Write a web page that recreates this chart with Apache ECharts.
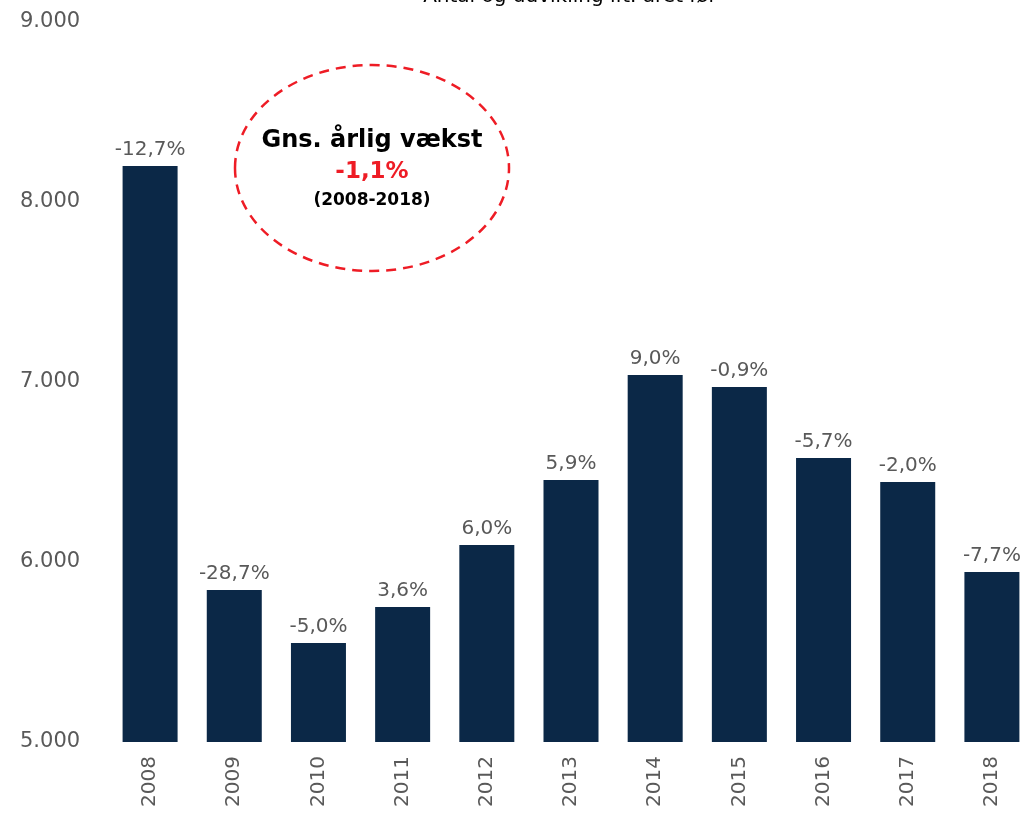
<!DOCTYPE html>
<html>
<head>
<meta charset="utf-8">
<script src="https://cdn.jsdelivr.net/npm/echarts@6/dist/echarts.min.js"></script>
<style>
  html, body { margin: 0; padding: 0; background: #fff; overflow: hidden; }
  #chart { width: 1034px; height: 819px; }
</style>
</head>
<body>
<div id="chart"></div>
<script>
// data
var years = ['2008', '2009', '2010', '2011', '2012', '2013', '2014', '2015', '2016', '2017', '2018'];
var antal = [8200, 5845, 5550, 5750, 6094, 6456, 7039, 6972, 6578, 6444, 5944];
var udvikling = ['-12,7%', '-28,7%', '-5,0%', '3,6%', '6,0%', '5,9%', '9,0%', '-0,9%', '-5,7%', '-2,0%', '-7,7%'];

var font = 'DejaVu Sans';
var chart = echarts.init(document.getElementById('chart'));

var option = {
    animation: false,
    grid: { left: 108, right: 0, top: 22, bottom: 77 },
    xAxis: {
        type: 'category',
        data: years,
        axisLine: { show: false },
        axisTick: { show: false },
        axisLabel: {
            rotate: 90,
            color: '#595959',
            fontFamily: font,
            fontSize: 20,
            margin: 14
        }
    },
    yAxis: {
        type: 'value',
        min: 5000,
        max: 9000,
        interval: 1000,
        splitLine: { show: false },
        axisLine: { show: false },
        axisTick: { show: false },
        axisLabel: {
            color: '#595959',
            fontFamily: font,
            fontSize: 21,
            align: 'left',
            margin: 88,
            formatter: function (v) {
                return String(v).replace(/\B(?=(\d{3})+(?!\d))/g, '.');
            }
        }
    },
    series: [{
        type: 'bar',
        data: antal,
        barWidth: 55,
        itemStyle: { color: '#0b2847' },
        label: {
            show: true,
            position: 'top',
            distance: 6,
            color: '#595959',
            fontFamily: font,
            fontSize: 20,
            formatter: function (p) { return udvikling[p.dataIndex]; }
        }
    }],
    graphic: [
        {
            type: 'text',
            x: 570, y: -13,
            style: { text: 'Antal og udvikling ift. året før', fill: '#000', font: '20px ' + font, align: 'center' }
        },
        {
            type: 'ellipse',
            shape: { cx: 372, cy: 168, rx: 137, ry: 103 },
            style: { fill: 'none', stroke: '#ee1c25', lineWidth: 2.5, lineDash: [10, 7] }
        },
        {
            type: 'text',
            x: 372, y: 141,
            style: { text: 'Gns. årlig vækst', fill: '#000', font: 'bold 24px ' + font, align: 'center', verticalAlign: 'middle' }
        },
        {
            type: 'text',
            x: 372, y: 172,
            style: { text: '-1,1%', fill: '#ee1c25', font: 'bold 23px ' + font, align: 'center', verticalAlign: 'middle' }
        },
        {
            type: 'text',
            x: 372, y: 201,
            style: { text: '(2008-2018)', fill: '#000', font: 'bold 17px ' + font, align: 'center', verticalAlign: 'middle' }
        }
    ]
};

chart.setOption(option);
</script>
</body>
</html>
